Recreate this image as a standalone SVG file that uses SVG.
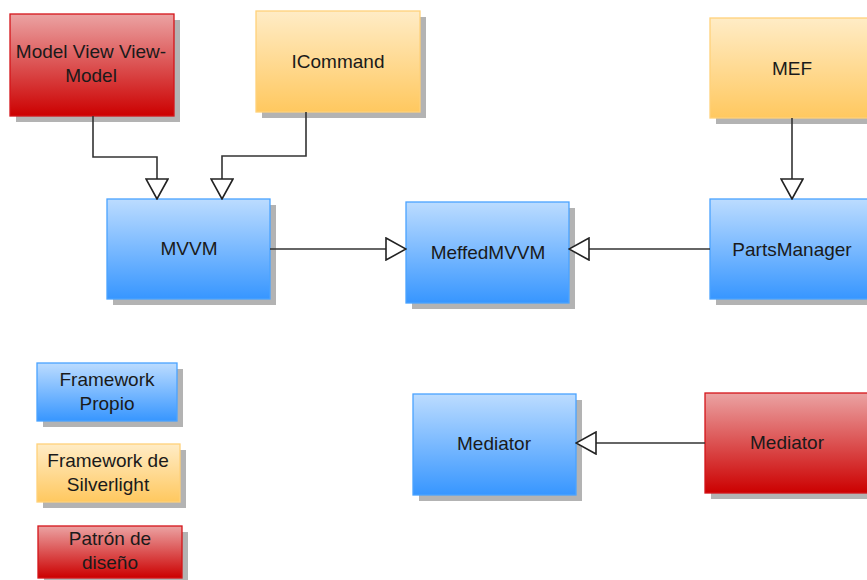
<svg xmlns="http://www.w3.org/2000/svg" width="867" height="580" viewBox="0 0 867 580">
<defs>
<linearGradient id="gBlue" x1="0" y1="0" x2="0" y2="1"><stop offset="0" stop-color="#bcdcff"/><stop offset="1" stop-color="#3796ff"/></linearGradient>
<linearGradient id="gOrange" x1="0" y1="0" x2="0" y2="1"><stop offset="0" stop-color="#ffecc6"/><stop offset="1" stop-color="#ffc85f"/></linearGradient>
<linearGradient id="gRed" x1="0" y1="0" x2="0" y2="1"><stop offset="0" stop-color="#eba3a3"/><stop offset="1" stop-color="#cc0000"/></linearGradient>
<marker id="tri" viewBox="0 0 22 24" refX="21" refY="12" markerWidth="22" markerHeight="24" markerUnits="userSpaceOnUse" orient="auto">
<path d="M1,1 L21,12 L1,23 Z" fill="#ffffff" stroke="#222222" stroke-width="1.6"/>
</marker>
<style>
.sh{fill:#b3b3b3}
.blue{fill:url(#gBlue);stroke:#4aa3ff;stroke-width:1.3}
.orange{fill:url(#gOrange);stroke:#ffd27a;stroke-width:1.3}
.red{fill:url(#gRed);stroke:#d4151a;stroke-width:1.3}
text{font-family:"Liberation Sans",Arial,sans-serif;font-size:19px;fill:#1a1a1a;text-anchor:middle}
.edge{fill:none;stroke:#333333;stroke-width:1.6;marker-end:url(#tri)}
</style>
</defs>
<rect width="867" height="580" fill="#ffffff"/>

<g id="n-mvvm-pattern">
<rect class="sh" x="16" y="20" width="164" height="102"/>
<rect class="red" x="10" y="14" width="164" height="102"/>
<text x="91" y="58">Model View View-</text>
<text x="91" y="82">Model</text>
</g>
<g id="n-icommand">
<rect class="sh" x="262" y="17" width="164" height="101"/>
<rect class="orange" x="256" y="11" width="164" height="101"/>
<text x="338" y="68">ICommand</text>
</g>
<g id="n-mef">
<rect class="sh" x="716" y="24" width="164" height="100"/>
<rect class="orange" x="710" y="18" width="164" height="100"/>
<text x="792" y="75">MEF</text>
</g>
<g id="n-mvvm">
<rect class="sh" x="113" y="205" width="163" height="100"/>
<rect class="blue" x="107" y="199" width="163" height="100"/>
<text x="189" y="255">MVVM</text>
</g>
<g id="n-meffedmvvm">
<rect class="sh" x="412" y="208" width="163" height="101"/>
<rect class="blue" x="406" y="202" width="163" height="101"/>
<text x="488" y="259">MeffedMVVM</text>
</g>
<g id="n-partsmanager">
<rect class="sh" x="716" y="205" width="164" height="100"/>
<rect class="blue" x="710" y="199" width="164" height="100"/>
<text x="792" y="256">PartsManager</text>
</g>
<g id="n-mediator-blue">
<rect class="sh" x="419" y="400" width="163" height="101"/>
<rect class="blue" x="413" y="394" width="163" height="101"/>
<text x="494" y="450">Mediator</text>
</g>
<g id="n-mediator-red">
<rect class="sh" x="711" y="399" width="164" height="100"/>
<rect class="red" x="705" y="393" width="164" height="100"/>
<text x="787" y="449">Mediator</text>
</g>
<g id="legend-propio">
<rect class="sh" x="43" y="369" width="140" height="58"/>
<rect class="blue" x="37" y="363" width="140" height="58"/>
<text x="107" y="386">Framework</text>
<text x="107" y="410">Propio</text>
</g>
<g id="legend-silverlight">
<rect class="sh" x="43" y="450" width="143" height="58"/>
<rect class="orange" x="37" y="444" width="143" height="58"/>
<text x="108" y="467">Framework de</text>
<text x="108" y="491">Silverlight</text>
</g>
<g id="legend-patron">
<rect class="sh" x="44" y="532" width="144" height="52"/>
<rect class="red" x="38" y="526" width="144" height="52"/>
<text x="110" y="545">Patrón de</text>
<text x="110" y="569">diseño</text>
</g>

<g id="connectors">
<path class="edge" d="M93,116 V157 H157 V199"/>
<path class="edge" d="M306,112 V156 H222 V199"/>
<path class="edge" d="M792,118 V199"/>
<path class="edge" d="M270,249 H406"/>
<path class="edge" d="M710,249 H569"/>
<path class="edge" d="M705,443 H576"/>
</g>
</svg>
